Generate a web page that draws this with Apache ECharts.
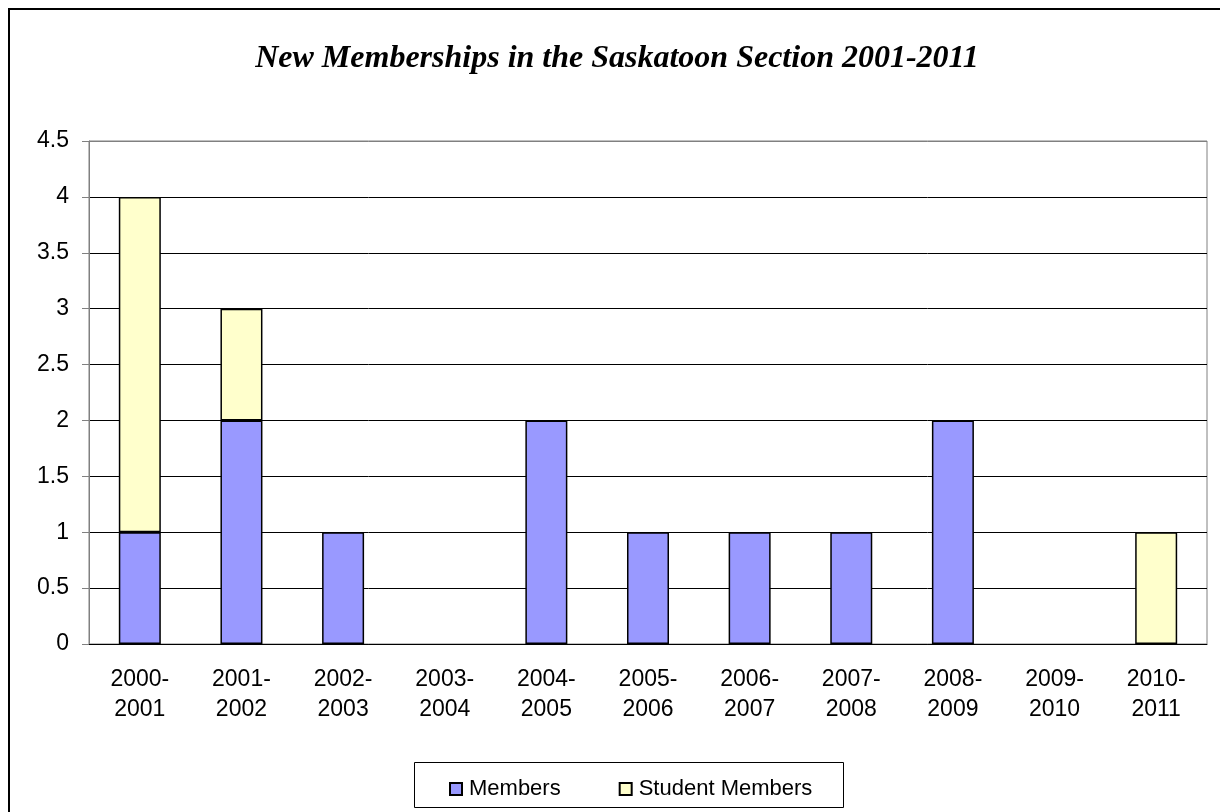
<!DOCTYPE html>
<html>
<head>
<meta charset="utf-8">
<script src="https://cdn.jsdelivr.net/npm/echarts@6/dist/echarts.min.js"></script>
<style>
html,body{margin:0;padding:0;background:#fff;}
#chart{width:1220px;height:812px;}
</style>
</head>
<body>
<div id="chart"></div>
<script>
const categories = ['2000-\n2001','2001-\n2002','2002-\n2003','2003-\n2004','2004-\n2005','2005-\n2006','2006-\n2007','2007-\n2008','2008-\n2009','2009-\n2010','2010-\n2011'];
const members = [1, 2, 1, 0, 2, 1, 1, 1, 2, 0, 0];
const studentMembers = [3, 1, 0, 0, 0, 0, 0, 0, 0, 0, 1];
const titleText = 'New Memberships in the Saskatoon Section 2001-2011';

const chart = echarts.init(document.getElementById('chart'), null, {renderer: 'canvas'});
const nz = a => a.map(v => v === 0 ? '-' : v);
chart.setOption({
  animation: false,
  backgroundColor: '#fff',
  title: {
    text: titleText,
    left: 612, top: 38, textAlign: 'center',
    textStyle: {fontFamily: 'Liberation Serif', fontStyle: 'italic', fontWeight: 'bold', fontSize: 32, color: '#000'}
  },
  graphic: [
    {type: 'rect', shape: {x: 9, y: 9, width: 1300, height: 900}, style: {fill: 'none', stroke: '#000', lineWidth: 2}, z: 100},
    {type: 'rect', shape: {x: 414.5, y: 762.5, width: 429, height: 45}, style: {fill: 'none', stroke: '#000', lineWidth: 1}, z: 100}
  ],
  legend: {
    left: 444, top: 773,
    itemWidth: 12, itemHeight: 12, itemGap: 58,
    icon: 'rect',
    textStyle: {fontFamily: 'Liberation Sans', fontSize: 22, color: '#000', padding: [0, 0, 0, 2]},
    data: ['Members', 'Student Members']
  },
  grid: {left: 89, top: 141, right: 13, bottom: 168, show: true, borderColor: '#808080', borderWidth: 1},
  xAxis: {
    type: 'category',
    data: categories,
    axisLine: {lineStyle: {color: '#000', width: 1}},
    axisTick: {length: 6, lineStyle: {color: '#404040'}},
    axisLabel: {fontFamily: 'Liberation Sans', fontSize: 23, color: '#000', lineHeight: 30, margin: 21}
  },
  yAxis: {
    type: 'value', min: 0, max: 4.5, interval: 0.5,
    axisLine: {show: true, lineStyle: {color: '#808080'}},
    axisTick: {show: true, length: 7, lineStyle: {color: '#808080'}},
    axisLabel: {fontFamily: 'Liberation Sans', fontSize: 23, color: '#000', margin: 20},
    splitLine: {lineStyle: {color: ['#000','#000','#000','#000','#000','#000','#000','#000','#000','#808080'], width: 1}}
  },
  series: [
    {name: 'Members', type: 'bar', stack: 'a', data: nz(members), barWidth: 42,
     itemStyle: {color: '#9999FF', borderColor: '#000', borderWidth: 1.5}},
    {name: 'Student Members', type: 'bar', stack: 'a', data: nz(studentMembers), barWidth: 42,
     itemStyle: {color: '#FFFFCC', borderColor: '#000', borderWidth: 1.5}}
  ]
});
</script>
</body>
</html>
